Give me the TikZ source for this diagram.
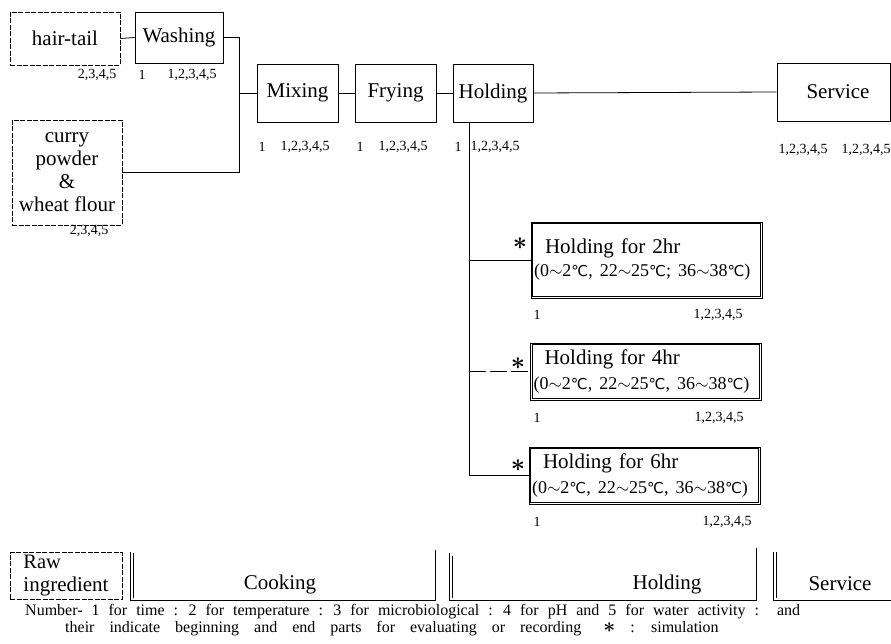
\documentclass[tikz,border=0pt]{standalone}
\usepackage{fontspec}
\setmainfont{Liberation Serif}
\newfontfamily\dejavu{DejaVu Sans}
\newcommand\dC{{\dejavu\fontsize{15}{15}\selectfont ℃}}
\newcommand\wv{$\sim$}
\newcommand\mainsz{\fontsize{21}{23}\selectfont}
\newcommand\numsz{\fontsize{14}{16}\selectfont}
\newcommand\spA{\spaceskip=9pt plus 1pt minus 1pt\relax}
\newcommand\spB{\spaceskip=15pt plus 1pt minus 1pt\relax}
\newcommand\fstar{{\boldmath\fontsize{20}{20}\selectfont$\ast$}}
\begin{document}
\begin{tikzpicture}[x=1pt,y=-1pt,
  box/.style={draw, line width=0.8pt, inner sep=0pt, font=\mainsz},
  rawbox/.style={draw, dash pattern=on 5pt off 1.5pt, line width=0.5pt, inner sep=0pt, font=\mainsz, align=center},
  hbox/.style={draw, line width=0.7pt, inner xsep=3pt, inner ysep=0pt, text width=225pt, align=left, font=\mainsz},
  inbox/.style={line width=0.9pt},
  num/.style={inner sep=0pt, font=\numsz},
  starlbl/.style={inner sep=0pt, font=\fontsize{26}{26}\selectfont\boldmath},
  con/.style={line width=0.8pt},
  bracket/.style={line width=0.8pt},
  foot/.style={inner sep=0pt, anchor=west, font=\fontsize{16}{17}\selectfont}]
\useasboundingbox (0,0) rectangle (891,644);

% top row
\node[rawbox, minimum width=110, minimum height=53] (hair) at (65,38.5) {hair-tail};
\node[box, minimum width=88, minimum height=51] (wash) at (179,37.5) {Washing};
\node[rawbox, minimum width=110, minimum height=105] (curry) at (67,172.5)
  {\fontsize{21}{21.5}\selectfont curry\\powder\\\&\\wheat flour};
\node[box, minimum width=81, minimum height=58] (mix) at (297.5,93) {Mixing};
\node[box, minimum width=81, minimum height=58] (fry) at (395.5,93) {Frying};
\node[box, minimum width=80, minimum height=58] (hold) at (493,93) {Holding};
\node[box, minimum width=113, minimum height=58] (serv) at (833.5,92) {\hspace*{9pt}Service};

% numbers
\node[num] (n1) at (97,75) {2,3,4,5};
\node[num] (n2) at (142,75) {1};
\node[num] (n3) at (192,75) {1,2,3,4,5};
\node[num] (n4) at (89,231) {2,3,4,5};
\node[num] (n5) at (262,147) {1};
\node[num] (n6) at (305,147) {1,2,3,4,5};
\node[num] (n7) at (360,147) {1};
\node[num] (n8) at (403,147) {1,2,3,4,5};
\node[num] (n9) at (458,147) {1};
\node[num] (n10) at (495,147) {1,2,3,4,5};
\node[num] (n11) at (803,150) {1,2,3,4,5};
\node[num] (n12) at (866,150) {1,2,3,4,5};

% holding sub-boxes
\node[hbox, minimum height=76] (h2) at (646.5,260)
  {\hspace*{11pt}Holding for 2hr\\[0pt]{\fontsize{18}{20}\selectfont (0\wv2\dC, 22\wv25\dC; 36\wv38\dC)}};
\node[hbox, minimum height=57] (h4) at (646,371.5)
  {\hspace*{11pt}Holding for 4hr\\[2pt]{\fontsize{18}{20}\selectfont (0\wv2\dC, 22\wv25\dC, 36\wv38\dC)}};
\node[hbox, minimum height=57] (h6) at (644.5,475.5)
  {\hspace*{11pt}Holding for 6hr\\[2pt]{\fontsize{18}{20}\selectfont (0\wv2\dC, 22\wv25\dC, 36\wv38\dC)}};
\foreach \b in {h2,h4,h6}
  \draw[inbox] ([shift={(2.2,2.2)}]\b.north west) rectangle ([shift={(-2.2,-2.2)}]\b.south east);

\node[starlbl] (s2) at (520,244) {$\ast$};
\node[starlbl] (s4) at (518,364) {$\ast$};
\node[starlbl] (s6) at (518,466) {$\ast$};

\node[num] (m1) at (537,315) {1};
\node[num] (m2) at (718,315) {1,2,3,4,5};
\node[num] (m3) at (537,418) {1};
\node[num] (m4) at (719,418) {1,2,3,4,5};
\node[num] (m5) at (537,522) {1};
\node[num] (m6) at (727,522) {1,2,3,4,5};

% connectors
\coordinate (j1) at (239,37.5);
\coordinate (j3) at (239,172.5);
\coordinate (v0) at (469,122);
\coordinate (v3) at (469,475.5);
\draw[con] (hair.east) -- (wash.west);
\draw[con] (wash.east) -- (j1) -- (j3) -- (curry.east);
\draw[con] (j1 |- mix.west) -- (mix.west);
\draw[con] (mix.east) -- (fry.west);
\draw[con] (fry.east) -- (hold.west);
\draw[con] (hold.east) -- (serv.west);
\draw[con] (v0) -- (v3) -- (h6.west);
\draw[con] (v0 |- h2.west) -- (h2.west);
\draw[con, dash pattern=on 17pt off 4pt] (v0 |- h4.west) -- (h4.west);

% phase bar
\node[rawbox, minimum width=112, minimum height=47, align=left] (raw) at (66,576)
  {\fontsize{20.5}{18}\selectfont Raw\\ingredient};
\node[inner sep=0pt, font=\mainsz] (cook) at (280,584) {Cooking};
\node[inner sep=0pt, font=\mainsz] (holdp) at (667,584) {Holding};
\node[inner sep=0pt, font=\mainsz] (servp) at (840,584) {Service};
\coordinate (c1) at (130,552); \coordinate (c2) at (130,600);
\coordinate (c3) at (435,600); \coordinate (c4) at (435,550);
\draw[bracket] (c1) -- (c2) -- (c3) -- (c4);
\draw[line width=0.6pt] (133.5,553) -- (133.5,598);
\coordinate (d1) at (449,553); \coordinate (d2) at (449,600);
\coordinate (d3) at (756,600); \coordinate (d4) at (756,548);
\draw[bracket] (d1) -- (d2) -- (d3) -- (d4);
\draw[line width=0.6pt] (452.5,556) -- (452.5,598);
\coordinate (e1) at (773,552); \coordinate (e2) at (773,600);
\coordinate (e3) at (891,600);
\draw[bracket] (e1) -- (e2) -- (e3);
\draw[line width=0.6pt] (776.5,552) -- (776.5,598);

% footnote
\node[foot] (f1) at (25,612) {\spA Number- 1 for time : 2 for temperature : 3 for microbiological : 4 for pH and 5 for water activity :\hspace{18pt}and};
\node[foot] (f2) at (65,629) {\spB their indicate beginning and end parts for\hspace{15pt}evaluating or recording\hspace{22pt}\fstar{} : simulation};
\end{tikzpicture}
\end{document}
